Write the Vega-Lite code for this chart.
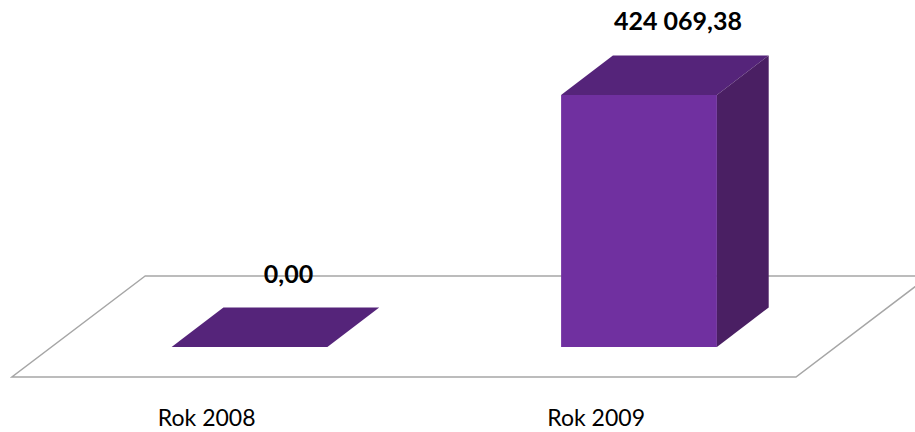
{
  "$schema": "https://vega.github.io/schema/vega-lite/v6.json",
  "width": 915,
  "height": 432,
  "autosize": {"type": "fit", "contains": "padding"},
  "padding": 0,
  "background": "white",
  "config": {
    "view": {"stroke": null},
    "locale": {"number": {"decimal": ",", "thousands": " ", "grouping": [3], "currency": ["", " zł"]}}
  },
  "data": {"values": [
    {"year": "Rok 2008", "value": 0},
    {"year": "Rok 2009", "value": 424069.38}
  ]},
  "transform": [
    {"window": [{"op": "row_number", "as": "idx"}]}
  ],
  "layer": [
    {
      "transform": [
        {"filter": "datum.idx == 1"},
        {"calculate": "[0, 1]", "as": "edge"},
        {"flatten": ["edge"]},
        {"calculate": "datum.edge == 0 ? -50500 : 119500", "as": "fy"},
        {"calculate": "datum.edge == 0 ? 0.39 : 0.732", "as": "fx1"},
        {"calculate": "datum.edge == 0 ? 2.403 : 2.745", "as": "fx2"}
      ],
      "mark": {"type": "area", "orient": "horizontal", "fill": "white", "stroke": "#a6a6a6", "strokeWidth": 1.5, "clip": true},
      "encoding": {
        "y": {"field": "fy", "type": "quantitative", "scale": {"domain": [-143038, 583930], "nice": false, "zero": false}, "axis": null},
        "x": {"field": "fx1", "type": "quantitative", "scale": {"domain": [0.3594, 2.7086], "nice": false, "zero": false}, "axis": null},
        "x2": {"field": "fx2"}
      }
    },
    {
      "transform": [
        {"calculate": "datum.idx - 0.2", "as": "fxl"},
        {"calculate": "datum.idx + 0.2", "as": "fxr"},
        {"calculate": "0", "as": "base"}
      ],
      "mark": {"type": "rect", "fill": "#7030a0"},
      "encoding": {
        "x": {"field": "fxl", "type": "quantitative"},
        "x2": {"field": "fxr"},
        "y": {"field": "value", "type": "quantitative"},
        "y2": {"field": "base"}
      }
    },
    {
      "transform": [
        {"calculate": "[0, 1]", "as": "edge"},
        {"flatten": ["edge"]},
        {"calculate": "datum.value + datum.edge * 66500", "as": "ty"},
        {"calculate": "datum.idx - 0.2 + datum.edge * 0.133", "as": "tx1"},
        {"calculate": "datum.idx + 0.2 + datum.edge * 0.133", "as": "tx2"}
      ],
      "mark": {"type": "area", "orient": "horizontal", "fill": "#55247a"},
      "encoding": {
        "y": {"field": "ty", "type": "quantitative"},
        "x": {"field": "tx1", "type": "quantitative"},
        "x2": {"field": "tx2"},
        "detail": {"field": "year"}
      }
    },
    {
      "transform": [
        {"filter": "datum.value > 0"},
        {"calculate": "[0, 1]", "as": "edge"},
        {"flatten": ["edge"]},
        {"calculate": "datum.idx + 0.2 + datum.edge * 0.133", "as": "sx"},
        {"calculate": "datum.value + datum.edge * 66500", "as": "sy"},
        {"calculate": "datum.edge * 66500", "as": "sy2"}
      ],
      "mark": {"type": "area", "orient": "vertical", "fill": "#4a1f63"},
      "encoding": {
        "x": {"field": "sx", "type": "quantitative"},
        "y": {"field": "sy", "type": "quantitative"},
        "y2": {"field": "sy2"},
        "detail": {"field": "year"}
      }
    },
    {
      "transform": [
        {"calculate": "datum.idx + 0.1", "as": "lx"},
        {"calculate": "datum.value + 122000", "as": "ly"}
      ],
      "mark": {"type": "text", "font": "Lato", "fontSize": 25, "fontWeight": "bold", "color": "black", "baseline": "middle", "align": "center"},
      "encoding": {
        "x": {"field": "lx", "type": "quantitative"},
        "y": {"field": "ly", "type": "quantitative"},
        "text": {"field": "value", "type": "quantitative", "format": ",.2f"}
      }
    },
    {
      "transform": [
        {"calculate": "datum.idx - 0.11", "as": "cx"},
        {"calculate": "-121000", "as": "cy"}
      ],
      "mark": {"type": "text", "font": "Lato", "fontSize": 23, "color": "black", "baseline": "middle", "align": "center"},
      "encoding": {
        "x": {"field": "cx", "type": "quantitative"},
        "y": {"field": "cy", "type": "quantitative"},
        "text": {"field": "year", "type": "nominal"}
      }
    }
  ]
}
